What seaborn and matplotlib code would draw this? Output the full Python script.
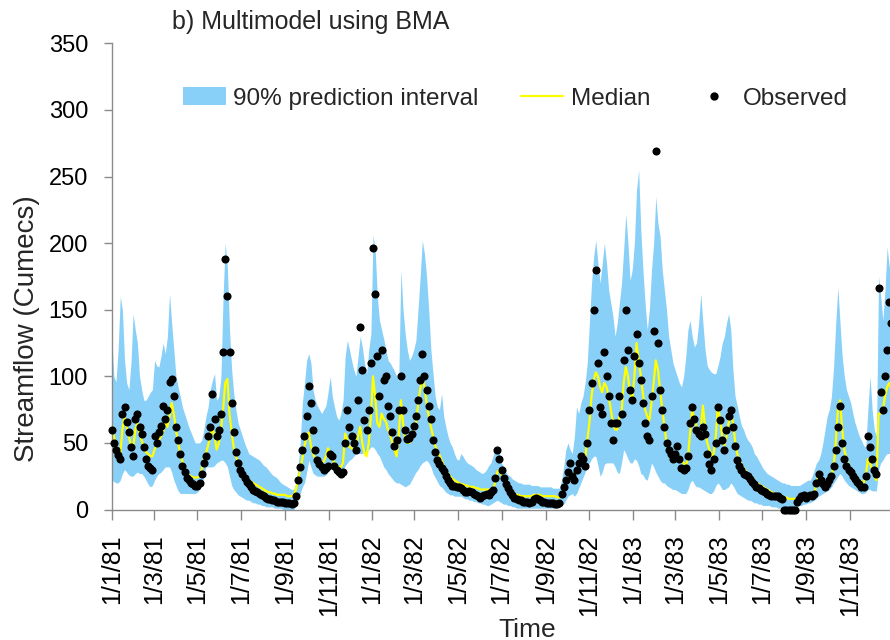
import pandas as pd
import matplotlib
matplotlib.use("Agg")
import matplotlib.pyplot as plt
import matplotlib.dates as mdates
from matplotlib.patches import Patch
from matplotlib.lines import Line2D
from matplotlib.ticker import FuncFormatter
import seaborn as sns

# Streamflow series sampled every 3 days from 1 Jan 1981 (cumecs)
start_date = "1981-01-01"
step_days = 3

observed = [
    60, 50, 45, 41, 38, 72, 77, 66, 58, 47,
    40, 68, 72, 62, 57, 47, 38, 33, 31, 30,
    55, 50, 58, 63, 78, 68, 75, 96, 98, 85,
    62, 52, 42, 33, 28, 24, 22, 20, 19, 18,
    18, 20, 27, 35, 40, 55, 62, 87, 68, 55,
    60, 72, 118, 188, 160, 118, 80, 58, 43, 35,
    30, 27, 24, 21, 19, 17, 15, 14, 13, 12,
    11, 10, 9, 8, 8, 7, 7, 6, 6, 6,
    6, 5, 5, 5, 4, 5, 10, 22, 32, 45,
    55, 70, 93, 80, 60, 45, 37, 34, 32, 30,
    31, 33, 42, 40, 33, 30, 28, 27, 28, 50,
    75, 62, 55, 50, 45, 82, 137, 105, 67, 60,
    75, 110, 196, 162, 115, 85, 120, 97, 100, 78,
    70, 58, 48, 52, 75, 100, 75, 60, 53, 54,
    57, 63, 70, 82, 97, 117, 100, 90, 78, 68,
    52, 43, 37, 34, 31, 29, 25, 22, 20, 18,
    18, 17, 17, 16, 15, 13, 13, 14, 13, 12,
    11, 10, 9, 10, 11, 12, 11, 13, 15, 24,
    45, 38, 30, 24, 19, 16, 13, 11, 9, 8,
    7, 7, 6, 6, 6, 5, 6, 8, 9, 8,
    7, 6, 6, 5, 5, 5, 5, 4, 4, 5,
    12, 17, 22, 28, 35, 25, 22, 30, 35, 40,
    38, 33, 50, 75, 95, 150, 180, 110, 77, 72,
    118, 100, 85, 65, 52, 65, 65, 85, 72, 112,
    150, 120, 90, 82, 115, 132, 110, 97, 80, 65,
    55, 52, 85, 134, 269, 125, 90, 75, 62, 50,
    45, 42, 38, 42, 48, 38, 31, 30, 31, 40,
    65, 77, 68, 60, 57, 55, 62, 57, 42, 34,
    30, 38, 50, 77, 67, 52, 45, 60, 70, 75,
    62, 48, 37, 33, 30, 27, 26, 25, 23, 21,
    19, 17, 16, 15, 14, 13, 12, 11, 10, 10,
    10, 10, 9, 8, 0, 0, 0, 0, 0, 0,
    6, 8, 10, 11, 9, 10, 11, 10, 12, 20,
    27, 22, 19, 17, 19, 22, 25, 33, 45, 62,
    78, 50, 38, 33, 30, 28, 25, 23, 21, 19,
    17, 17, 25, 55, 47, 38, 30, 27, 166, 88,
    75, 100, 120, 156, 140,
]

median = [
    65, 55, 48, 44, 42, 60, 70, 62, 55, 48,
    45, 60, 65, 57, 52, 47, 43, 42, 40, 40,
    45, 48, 52, 55, 58, 65, 62, 70, 80, 72,
    60, 50, 42, 36, 32, 28, 26, 25, 24, 24,
    24, 25, 30, 38, 42, 48, 55, 62, 55, 45,
    50, 60, 75, 95, 98, 72, 58, 46, 40, 35,
    31, 28, 26, 24, 22, 21, 20, 19, 18, 17,
    16, 15, 14, 13, 13, 12, 12, 11, 11, 11,
    11, 11, 10, 10, 10, 11, 15, 22, 30, 38,
    48, 55, 58, 48, 42, 38, 36, 35, 35, 36,
    40, 46, 42, 38, 35, 33, 32, 32, 35, 57,
    52, 47, 46, 45, 45, 55, 62, 50, 42, 40,
    50, 70, 100, 85, 65, 62, 72, 68, 66, 60,
    56, 50, 45, 40, 55, 82, 65, 52, 50, 50,
    52, 58, 65, 78, 90, 100, 92, 80, 70, 62,
    55, 48, 44, 41, 37, 33, 30, 27, 25, 23,
    22, 21, 20, 19, 19, 18, 18, 17, 17, 17,
    16, 16, 15, 15, 15, 15, 15, 15, 16, 20,
    28, 30, 26, 22, 19, 17, 15, 13, 12, 11,
    11, 10, 10, 10, 10, 10, 10, 11, 11, 11,
    11, 10, 10, 10, 10, 10, 10, 10, 9, 9,
    12, 15, 20, 24, 28, 27, 26, 28, 32, 38,
    40, 38, 52, 65, 85, 97, 103, 100, 92, 88,
    95, 92, 85, 75, 65, 60, 60, 70, 72, 95,
    107, 100, 88, 82, 100, 125, 112, 100, 87, 75,
    70, 67, 80, 95, 112, 105, 90, 75, 63, 50,
    45, 42, 42, 42, 42, 40, 37, 35, 33, 38,
    58, 75, 68, 62, 60, 60, 78, 62, 50, 45,
    40, 42, 55, 78, 68, 55, 48, 55, 65, 75,
    65, 52, 42, 37, 34, 31, 29, 27, 26, 24,
    22, 20, 19, 18, 17, 16, 15, 14, 13, 12,
    12, 11, 10, 10, 9, 9, 8, 8, 8, 8,
    8, 9, 10, 11, 11, 12, 12, 12, 13, 18,
    27, 25, 22, 20, 20, 22, 26, 32, 50, 75,
    82, 60, 45, 38, 33, 30, 28, 26, 24, 22,
    21, 20, 25, 38, 35, 30, 25, 22, 72, 72,
    75, 85, 92, 95, 90,
]

lower_90 = [
    22, 21, 20, 20, 22, 27, 30, 28, 26, 25,
    25, 27, 28, 27, 27, 25, 22, 19, 17, 18,
    22, 25, 27, 28, 30, 32, 32, 32, 28, 22,
    18, 14, 12, 12, 12, 12, 12, 12, 12, 12,
    13, 15, 18, 25, 32, 32, 32, 32, 33, 35,
    36, 37, 37, 35, 32, 25, 18, 15, 13, 11,
    10, 9, 8, 7, 7, 6, 5, 5, 4, 4,
    3, 3, 2, 2, 2, 2, 1, 1, 1, 1,
    0, 0, 0, 0, 0, 0, 3, 7, 12, 17,
    20, 28, 37, 32, 27, 26, 25, 25, 25, 25,
    26, 28, 30, 32, 30, 28, 27, 27, 30, 33,
    35, 37, 38, 40, 42, 42, 42, 42, 43, 44,
    45, 47, 47, 45, 42, 40, 36, 32, 30, 27,
    25, 23, 21, 20, 20, 19, 18, 17, 18, 19,
    22, 25, 28, 30, 33, 35, 36, 37, 35, 32,
    27, 24, 21, 18, 17, 15, 13, 12, 11, 11,
    10, 10, 10, 10, 9, 8, 8, 7, 7, 6,
    6, 5, 5, 4, 4, 3, 3, 4, 5, 6,
    7, 6, 5, 4, 4, 3, 3, 2, 2, 1,
    1, 1, 1, 1, 1, 1, 1, 1, 1, 1,
    1, 1, 1, 1, 1, 1, 1, 1, 2, 3,
    3, 4, 7, 10, 11, 12, 10, 12, 16, 20,
    24, 28, 32, 35, 38, 40, 40, 33, 25, 28,
    34, 35, 35, 35, 35, 32, 28, 27, 35, 45,
    42, 38, 35, 35, 38, 37, 33, 27, 26, 23,
    22, 28, 35, 32, 28, 25, 22, 20, 20, 18,
    17, 16, 15, 15, 14, 13, 12, 12, 12, 15,
    20, 22, 19, 17, 17, 16, 15, 14, 13, 12,
    12, 14, 18, 20, 18, 15, 15, 16, 17, 20,
    18, 15, 12, 11, 10, 9, 8, 7, 7, 6,
    5, 5, 4, 4, 3, 3, 3, 3, 2, 2,
    2, 1, 1, 1, 1, 1, 1, 2, 2, 2,
    2, 3, 3, 4, 4, 5, 5, 6, 7, 8,
    10, 11, 12, 13, 14, 15, 17, 20, 22, 25,
    27, 25, 22, 20, 18, 17, 16, 15, 14, 13,
    12, 12, 13, 15, 15, 14, 14, 14, 30, 35,
    37, 40, 42, 42, 40,
]

upper_90 = [
    130, 100, 96, 120, 160, 150, 112, 95, 90, 110,
    147, 135, 125, 100, 90, 82, 82, 85, 88, 90,
    112, 108, 107, 115, 125, 117, 130, 162, 140, 120,
    100, 92, 85, 77, 72, 67, 62, 58, 54, 50,
    50, 50, 52, 60, 70, 77, 90, 97, 102, 82,
    85, 100, 160, 200, 182, 135, 105, 87, 75, 65,
    60, 55, 50, 46, 42, 41, 40, 39, 38, 37,
    35, 33, 32, 30, 28, 26, 25, 24, 22, 20,
    19, 18, 17, 16, 15, 15, 20, 32, 50, 80,
    95, 112, 117, 110, 90, 82, 78, 75, 72, 75,
    78, 88, 100, 85, 77, 70, 67, 72, 82, 115,
    127, 120, 112, 105, 100, 115, 130, 122, 110, 102,
    120, 132, 206, 195, 160, 142, 135, 128, 120, 112,
    110, 107, 104, 100, 97, 180, 150, 132, 120, 112,
    115, 120, 127, 150, 175, 202, 192, 175, 150, 120,
    102, 85, 77, 75, 87, 70, 62, 55, 50, 47,
    42, 38, 37, 42, 40, 37, 35, 34, 33, 32,
    30, 29, 28, 27, 28, 30, 33, 35, 40, 45,
    47, 42, 35, 32, 28, 26, 25, 23, 22, 21,
    20, 20, 19, 19, 19, 19, 18, 18, 18, 18,
    17, 17, 17, 17, 17, 17, 16, 16, 16, 16,
    22, 32, 45, 50, 45, 42, 55, 77, 72, 80,
    85, 95, 110, 140, 170, 190, 202, 185, 170, 185,
    200, 185, 165, 155, 145, 130, 140, 155, 170, 195,
    222, 200, 172, 180, 200, 240, 255, 210, 180, 155,
    135, 150, 180, 200, 235, 215, 205, 180, 165, 150,
    130, 120, 110, 105, 100, 95, 92, 100, 115, 135,
    142, 130, 122, 125, 140, 162, 140, 120, 108, 105,
    103, 102, 102, 108, 115, 125, 130, 140, 147, 135,
    105, 85, 78, 70, 63, 60, 55, 52, 50, 47,
    42, 40, 37, 34, 31, 29, 27, 26, 25, 24,
    23, 22, 21, 20, 20, 19, 19, 18, 18, 18,
    18, 18, 19, 20, 21, 22, 22, 25, 30, 35,
    37, 42, 50, 60, 70, 75, 85, 107, 140, 167,
    140, 115, 100, 90, 85, 80, 72, 65, 60, 55,
    52, 48, 47, 75, 100, 75, 60, 55, 175, 160,
    142, 165, 197, 182, 190,
]

y_ticks = [0, 50, 100, 150, 200, 250, 300, 350]
tick_months = [1, 3, 5, 7, 9, 11]

dates = pd.date_range(start_date, periods=len(observed), freq=f"{step_days}D")
df = pd.DataFrame({
    "date": dates,
    "observed": observed,
    "median": median,
    "lower": lower_90,
    "upper": upper_90,
})

sns.set_theme(style="ticks")
plt.rcParams["font.family"] = ["Liberation Sans", "DejaVu Sans"]

band_color = "#89D0F8"
median_color = "#FFFF00"
axis_gray = "#8A8A8A"

fig = plt.figure(figsize=(8.9, 6.4), dpi=100)
ax = fig.add_axes([0.1255, 0.2039, 0.8745, 0.7284])

ax.fill_between(df["date"], df["lower"], df["upper"], color=band_color,
                linewidth=0, zorder=1)
sns.lineplot(data=df, x="date", y="median", color=median_color,
             linewidth=1.6, ax=ax, zorder=2)
sns.scatterplot(data=df, x="date", y="observed", color="black", s=34,
                linewidth=0, ax=ax, zorder=3, clip_on=False)

ax.set_xlim(pd.Timestamp("1981-01-01"), pd.Timestamp("1983-12-27"))
ax.set_ylim(0, 350)
ax.set_yticks(y_ticks)

ax.xaxis.set_major_locator(mdates.MonthLocator(bymonth=tick_months, bymonthday=1))


def day_month_year(x, pos=None):
    d = mdates.num2date(x)
    return f"{d.day}/{d.month}/{d:%y}"


ax.xaxis.set_major_formatter(FuncFormatter(day_month_year))

sns.despine(ax=ax)
for side in ("left", "bottom"):
    ax.spines[side].set_color(axis_gray)
    ax.spines[side].set_linewidth(1)

ax.tick_params(axis="x", direction="out", length=7, width=1, color=axis_gray,
               labelsize=18, pad=11, labelrotation=90, labelcolor="black")
ax.tick_params(axis="y", direction="out", length=6, width=1, color=axis_gray,
               labelsize=17, pad=11, labelcolor="black")

ax.set_xlabel("Time", fontsize=19)
ax.set_ylabel("Streamflow (Cumecs)", fontsize=20)
ax.xaxis.set_label_coords(0.5336, -0.232)
ax.yaxis.set_label_coords(-0.092, 0.387)

fig.text(172 / 890, 1 - 22 / 640, "b) Multimodel using BMA", ha="left",
         va="center", fontsize=18)

handles = [
    Patch(facecolor=band_color, edgecolor="none"),
    Line2D([], [], color=median_color, linewidth=1.6),
    Line2D([], [], marker="o", linestyle="none", color="black", markersize=5),
]
labels = ["90% prediction interval", "Median", "Observed"]
fig.legend(handles, labels, loc="center left",
           bbox_to_anchor=(183 / 890, 1 - 98.5 / 640), ncol=3, frameon=False,
           fontsize=17.5, handlelength=1.75, handleheight=0.7,
           handletextpad=0.3, columnspacing=1.75, borderpad=0,
           borderaxespad=0)

fig.savefig("out.png", dpi=100)
